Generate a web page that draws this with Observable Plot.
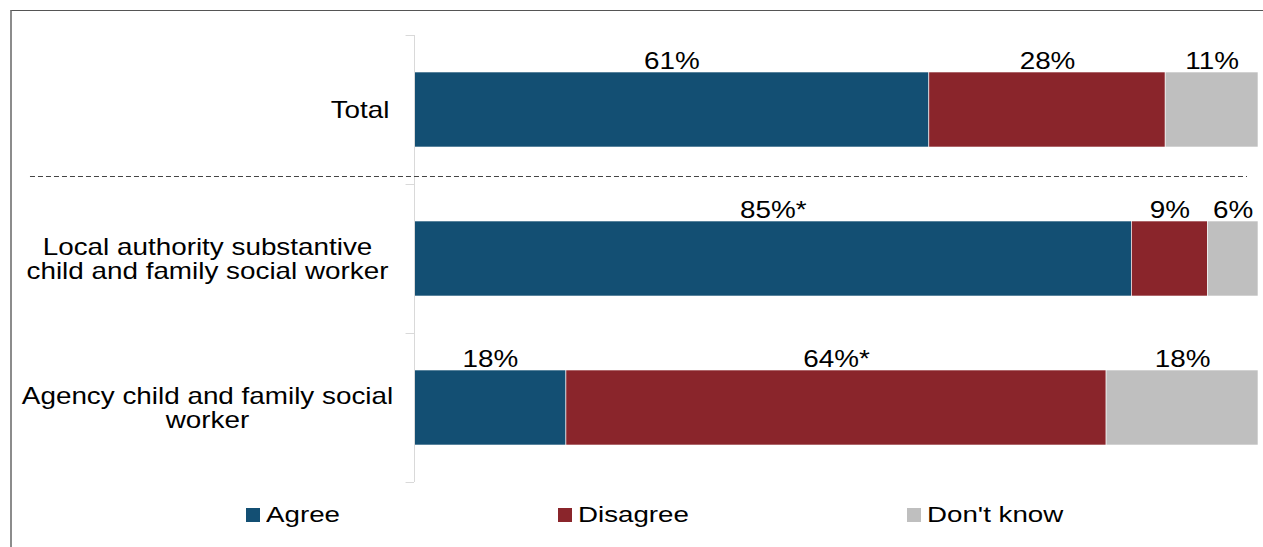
<!DOCTYPE html>
<html><head><meta charset="utf-8">
<script src="https://cdn.jsdelivr.net/npm/d3@7"></script>
<script src="https://cdn.jsdelivr.net/npm/@observablehq/plot@0.6"></script>
<style>
body{margin:0;background:#fff;font-family:"Liberation Sans",Arial,sans-serif;}
#wrap{position:relative;width:1263px;height:547px;overflow:hidden;}
#frame{position:absolute;left:10px;top:10px;width:1400px;height:700px;border-top:1.5px solid #555;border-left:2px solid #8c8c8c;}
#chart{position:absolute;left:0;top:0}
#legend{position:absolute;top:501px;left:0;width:1263px;height:28px;font-size:22px;color:#000}
.item{position:absolute;top:0;height:28px;display:flex;align-items:center}
.sw{width:14px;height:14px;margin-right:6px}
.lt{display:inline-block;transform:scaleX(1.26);transform-origin:left center}
</style></head><body>
<div id="wrap"><div id="frame"></div><div id="chart"></div><div id="legend"></div></div>
<script>
const categories = ["Total", "Local authority substantive\nchild and family social worker", "Agency child and family social\nworker"];
const responses = ["Agree", "Disagree", "Don't know"];
const agree = [61, 85, 18];
const disagree = [28, 9, 64];
const dontKnow = [11, 6, 18];
const markers = [["", "", ""], ["*", "", ""], ["", "*", ""]]; // significance asterisks
const colors = ["#134f73", "#8a252b", "#bfbfbf"];

const series = [agree, disagree, dontKnow];
const rows = [];
categories.forEach((c, i) => {
  responses.forEach((r, j) => {
    rows.push({cat: c, resp: r, value: series[j][i], label: series[j][i] + "%" + markers[i][j]});
  });
});

const fs = 24;
const chart = Plot.plot({
  width: 1263, height: 490,
  marginLeft: 414, marginRight: 5, marginTop: 35, marginBottom: 8,
  style: {fontFamily: "'Liberation Sans', Arial, sans-serif", fontSize: fs + "px", color: "#000", background: "transparent", overflow: "visible"},
  x: {domain: [0, 100], axis: null},
  y: {domain: categories, paddingInner: 0.5, paddingOuter: 0.25, axis: null},
  color: {domain: responses, range: colors},
  marks: [
    Plot.barX(rows, Plot.stackX({x: "value", y: "cat", fill: "resp", order: responses, stroke: "#fff", strokeWidth: 0.6})),
    Plot.text(rows, Plot.stackX({x: "value", y: "cat", z: "resp", order: responses, text: "label", dy: -49, fontSize: fs, fill: "#000"})),
    Plot.ruleX([0], {stroke: "#d9d9d9"}),
    Plot.ruleY(categories, {y: d => d, x1: -1, x2: 0, dy: -74.5, stroke: "#d9d9d9"}),
    Plot.ruleY([categories[categories.length - 1]], {y: d => d, x1: -1, x2: 0, dy: 74.5, stroke: "#d9d9d9"}),
    Plot.ruleY([categories[0]], {y: d => d, x1: -45.5, x2: 98.7, dy: 66.5, stroke: "#444", strokeDasharray: "5,3"}),
    Plot.text([categories[0]], {y: d => d, frameAnchor: "left", dx: -25, text: d => d, textAnchor: "end", fontSize: fs, fill: "#000"}),
    Plot.text(categories.slice(1), {y: d => d, frameAnchor: "left", dx: -207, text: d => d, textAnchor: "middle", lineHeight: 1.04, fontSize: fs, fill: "#000"})
  ]
});
document.getElementById("chart").appendChild(chart);

// widen glyphs horizontally about each text's anchor, as in the reference
d3.select(chart).selectAll("g[aria-label=text] text").each(function() {
  const t = this.getAttribute("transform");
  if (t) {
    this.setAttribute("transform", t + " scale(1.16,1)");
  } else {
    const x = +this.getAttribute("x") || 0, y = +this.getAttribute("y") || 0;
    this.removeAttribute("x"); this.removeAttribute("y");
    this.setAttribute("transform", `translate(${x},${y}) scale(1.16,1)`);
  }
});

const legendX = [246, 558, 907];
const legend = document.getElementById("legend");
responses.forEach((r, i) => {
  const it = document.createElement("div");
  it.className = "item";
  it.style.left = legendX[i] + "px";
  it.innerHTML = `<span class="sw" style="background:${colors[i]}"></span><span class="lt">${r}</span>`;
  legend.appendChild(it);
});
</script>
</body></html>
